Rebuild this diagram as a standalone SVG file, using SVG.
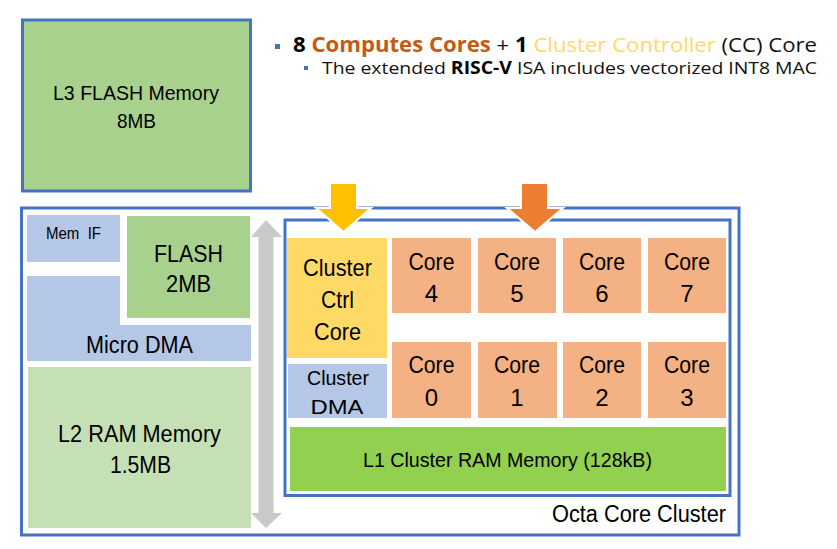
<svg xmlns="http://www.w3.org/2000/svg" width="837" height="549" viewBox="0 0 837 549">
<style>
.lbl{font-family:"Liberation Sans",Arial,sans-serif;fill:#000;text-anchor:middle}
.frame{fill:none;stroke:#4472C4;stroke-width:3}
.core{fill:#F4B183}
.hdr{font-family:"Open Sans","Lato",sans-serif;fill:#111}
</style>
<rect width="837" height="549" fill="#fff"/>

<g id="header">
<rect x="275" y="44" width="5" height="5" fill="#4472C4"/>
<text class="hdr" x="293" y="52" font-size="20.5" textLength="524" lengthAdjust="spacingAndGlyphs"><tspan font-weight="bold" fill="#000">8 </tspan><tspan font-weight="bold" fill="#C55A11">Computes Cores</tspan><tspan> + </tspan><tspan font-weight="bold" fill="#000">1 </tspan><tspan fill="#FFD966">Cluster Controller</tspan><tspan> (CC) Core</tspan></text>
<rect x="304" y="66" width="4" height="4" fill="#4472C4"/>
<text class="hdr" x="322" y="74" font-size="17" textLength="495" lengthAdjust="spacingAndGlyphs">The extended <tspan font-weight="bold" fill="#000">RISC-V</tspan> ISA includes vectorized INT8 MAC</text>
</g>

<g id="l3-flash">
<rect x="22.5" y="20" width="228" height="171" class="frame" style="fill:#A9D18E"/>
<text class="lbl" x="136" y="100" font-size="21" textLength="166" lengthAdjust="spacingAndGlyphs">L3 FLASH Memory</text>
<text class="lbl" x="136.5" y="128" font-size="21" textLength="39" lengthAdjust="spacingAndGlyphs">8MB</text>
</g>

<g id="soc">
<rect x="21.5" y="208" width="717.5" height="327" class="frame"/>
</g>

<g id="mem-if">
<rect x="27" y="215" width="93" height="47" fill="#B4C7E7"/>
<text class="lbl" x="73.5" y="239" font-size="16" textLength="55" lengthAdjust="spacingAndGlyphs">Mem&#160; IF</text>
</g>

<g id="flash-2mb">
<rect x="127" y="216" width="123" height="102" fill="#A9D18E"/>
<text class="lbl" x="188.5" y="262" font-size="24" textLength="69" lengthAdjust="spacingAndGlyphs">FLASH</text>
<text class="lbl" x="188.5" y="292" font-size="24" textLength="45" lengthAdjust="spacingAndGlyphs">2MB</text>
</g>

<g id="micro-dma">
<polygon points="27,276 120,276 120,325 251,325 251,361 27,361" fill="#B4C7E7"/>
<text class="lbl" x="139.5" y="353" font-size="23" textLength="107" lengthAdjust="spacingAndGlyphs">Micro DMA</text>
</g>

<g id="l2-ram">
<rect x="28" y="367" width="223" height="161" fill="#C5E0B4"/>
<text class="lbl" x="139.5" y="442" font-size="23" textLength="163" lengthAdjust="spacingAndGlyphs">L2 RAM Memory</text>
<text class="lbl" x="140.5" y="473" font-size="23" textLength="61" lengthAdjust="spacingAndGlyphs">1.5MB</text>
</g>

<g id="cluster">
<rect x="285" y="220" width="445" height="275.5" class="frame"/>
<text class="lbl" x="726" y="522" font-size="23" style="text-anchor:end" textLength="174" lengthAdjust="spacingAndGlyphs">Octa Core Cluster</text>
</g>

<g id="cluster-ctrl">
<rect x="287" y="238" width="100" height="120" fill="#FFD966"/>
<text class="lbl" x="337.5" y="276" font-size="24" textLength="69" lengthAdjust="spacingAndGlyphs">Cluster</text>
<text class="lbl" x="337.5" y="308" font-size="24" textLength="33" lengthAdjust="spacingAndGlyphs">Ctrl</text>
<text class="lbl" x="337.5" y="340" font-size="24" textLength="47" lengthAdjust="spacingAndGlyphs">Core</text>
</g>

<g id="cluster-dma">
<rect x="288" y="364" width="99" height="54" fill="#B4C7E7"/>
<text class="lbl" x="338" y="385" font-size="21" textLength="62" lengthAdjust="spacingAndGlyphs">Cluster</text>
<text class="lbl" x="337" y="414" font-size="21" textLength="53" lengthAdjust="spacingAndGlyphs">DMA</text>
</g>

<g id="core4"><rect class="core" x="392" y="238" width="79" height="75"/><text class="lbl" x="431.5" y="270" font-size="24" textLength="46" lengthAdjust="spacingAndGlyphs">Core</text><text class="lbl" x="431.5" y="302" font-size="24">4</text></g>
<g id="core5"><rect class="core" x="478" y="238" width="78" height="75"/><text class="lbl" x="517" y="270" font-size="24" textLength="46" lengthAdjust="spacingAndGlyphs">Core</text><text class="lbl" x="517" y="302" font-size="24">5</text></g>
<g id="core6"><rect class="core" x="563" y="238" width="78" height="75"/><text class="lbl" x="602" y="270" font-size="24" textLength="46" lengthAdjust="spacingAndGlyphs">Core</text><text class="lbl" x="602" y="302" font-size="24">6</text></g>
<g id="core7"><rect class="core" x="648" y="238" width="78" height="75"/><text class="lbl" x="687" y="270" font-size="24" textLength="46" lengthAdjust="spacingAndGlyphs">Core</text><text class="lbl" x="687" y="302" font-size="24">7</text></g>

<g id="core0"><rect class="core" x="392" y="342" width="79" height="76"/><text class="lbl" x="431.5" y="373" font-size="24" textLength="46" lengthAdjust="spacingAndGlyphs">Core</text><text class="lbl" x="431.5" y="406" font-size="24">0</text></g>
<g id="core1"><rect class="core" x="478" y="342" width="79" height="76"/><text class="lbl" x="517" y="373" font-size="24" textLength="46" lengthAdjust="spacingAndGlyphs">Core</text><text class="lbl" x="517" y="406" font-size="24">1</text></g>
<g id="core2"><rect class="core" x="563" y="342" width="78" height="76"/><text class="lbl" x="602" y="373" font-size="24" textLength="46" lengthAdjust="spacingAndGlyphs">Core</text><text class="lbl" x="602" y="406" font-size="24">2</text></g>
<g id="core3"><rect class="core" x="648" y="342" width="78" height="76"/><text class="lbl" x="687" y="373" font-size="24" textLength="46" lengthAdjust="spacingAndGlyphs">Core</text><text class="lbl" x="687" y="406" font-size="24">3</text></g>

<g id="l1-ram">
<rect x="290" y="427" width="436" height="64" fill="#92D050"/>
<text class="lbl" x="507.5" y="467" font-size="21" textLength="289" lengthAdjust="spacingAndGlyphs">L1 Cluster RAM Memory (128kB)</text>
</g>

<g id="connectors">
<polygon points="266,220 282,237 273.5,237 273.5,513 282,513 266,528 251,513 258.5,513 258.5,237 251,237" fill="#C9C9C9"/>
<polygon points="330,183 357,183 357,208 371,208 343.5,232 316,208 330,208" fill="#FFC000" stroke="#fff" stroke-width="2" stroke-linejoin="miter"/>
<polygon points="521,183 548,183 548,208 563,208 535,232 507,208 521,208" fill="#ED7D31" stroke="#fff" stroke-width="2" stroke-linejoin="miter"/>
</g>
</svg>
